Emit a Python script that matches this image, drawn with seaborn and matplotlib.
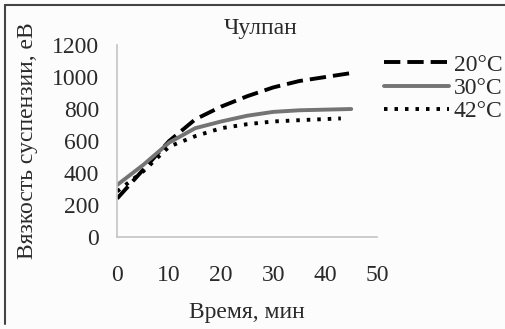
import numpy as np
import pandas as pd
import matplotlib
matplotlib.use("Agg")
import matplotlib.pyplot as plt
import seaborn as sns
from matplotlib.ticker import MultipleLocator

# viscosity
time_min = [0, 5, 10, 15, 20, 25, 30, 35, 40, 45]
visc_20 = [240, 420, 600, 735, 815, 880, 935, 975, 1000, 1025]
visc_30 = [325, 450, 590, 680, 722, 758, 782, 792, 796, 800]
time_42 = [0, 5, 10, 15, 20, 25, 30, 35, 40, 43]
visc_42 = [285, 410, 565, 630, 680, 705, 722, 730, 737, 741]

labels = ["20°C", "30°C", "42°C"]

df = pd.concat([
    pd.DataFrame({"t": time_min, "v": visc_20, "temp": labels[0]}),
    pd.DataFrame({"t": time_min, "v": visc_30, "temp": labels[1]}),
    pd.DataFrame({"t": time_42, "v": visc_42, "temp": labels[2]}),
])

sns.set_style("white")
plt.rcParams["font.family"] = ["Liberation Serif", "DejaVu Serif"]
txt = "#2a2a2a"

fig = plt.figure(figsize=(5.05, 3.29), dpi=100, facecolor="#fcfcfc")
ax = fig.add_axes([0.232, 0.28, 0.515, 0.583])
ax.set_facecolor("#fcfcfc")

styles = {
    labels[0]: dict(color="black", linestyle=(0, (4.2, 1.8)), linewidth=2.8),
    labels[1]: dict(color="#747474", linestyle="-", linewidth=2.8),
    labels[2]: dict(color="black", linestyle=(0, (0.9, 1.8)), linewidth=2.8),
}
for lab in labels:
    sub = df[df["temp"] == lab]
    sns.lineplot(data=sub, x="t", y="v", ax=ax, label=lab, **styles[lab])

ax.set_xlim(0, 50)
ax.set_ylim(0, 1200)
ax.xaxis.set_major_locator(MultipleLocator(10))
ax.xaxis.set_minor_locator(MultipleLocator(2))
ax.yaxis.set_major_locator(MultipleLocator(200))
ax.yaxis.set_minor_locator(MultipleLocator(50))
ax.tick_params(axis="both", which="both", direction="inout", color="#c4c4c4",
               labelsize=17, labelcolor=txt)
ax.tick_params(which="major", length=6, width=1)
ax.tick_params(which="minor", length=4, width=0.8)
ax.tick_params(axis="x", pad=17)
ax.tick_params(axis="y", pad=10)

for s in ["top", "right"]:
    ax.spines[s].set_visible(False)
for s in ["left", "bottom"]:
    ax.spines[s].set_color("#c4c4c4")
    ax.spines[s].set_linewidth(1.2)

ax.set_title("Чулпан", fontsize=17, color=txt, pad=8, x=0.55)
ax.set_xlabel("Время, мин", fontsize=17, color=txt, labelpad=12)
ax.set_ylabel("Вязкость суспензии, еВ", fontsize=17, color=txt, labelpad=10)

leg = fig.legend(loc="upper left", bbox_to_anchor=(384 / 505, 1 - 54 / 329),
                 frameon=False, fontsize=17, handlelength=2.75,
                 handletextpad=0.2, labelspacing=0.08, borderaxespad=0.0,
                 borderpad=0.0)
ax.get_legend().remove()
for t in leg.get_texts():
    t.set_color(txt)

# outer frame of the scanned figure
fig.add_artist(plt.Line2D([0.01, 0.01], [0.015, 0.985], color="#444444", lw=1.5,
                          transform=fig.transFigure))
fig.add_artist(plt.Line2D([0.01, 1.0], [0.985, 0.985], color="#444444", lw=1.5,
                          transform=fig.transFigure))

fig.savefig("out.png", dpi=100, facecolor=fig.get_facecolor())
